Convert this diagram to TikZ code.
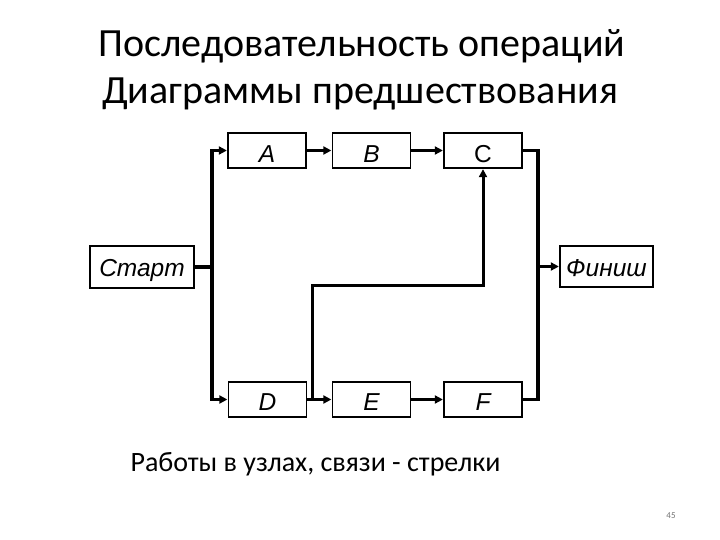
\documentclass[tikz,border=0pt]{standalone}
\usepackage{fontspec}
\setmainfont{Carlito}
\newfontfamily\arialfont{Liberation Sans}
\usetikzlibrary{arrows.meta}
\begin{document}
\begin{tikzpicture}[x=1pt,y=-1pt,
  box/.style={draw=black, line width=1.1pt, fill=white, inner sep=0pt,
    text height=21pt, text depth=0pt,
    font=\arialfont\itshape\fontsize{24.5}{24.5}\selectfont},
  actbox/.style={box, minimum width=78pt, minimum height=35pt},
  conn/.style={line width=3.6pt, line join=miter},
  arr/.style={conn, -{Triangle[length=8pt,width=8pt]}, shorten >=0.6pt},
  thinarr/.style={line width=3pt, -{Triangle[length=8pt,width=8pt]}, shorten >=0.6pt},
  title/.style={font=\fontsize{40}{40}\selectfont, anchor=base},
  note/.style={font=\fontsize{28}{28}\selectfont, anchor=base west}]
\useasboundingbox (0,0) rectangle (720,540);
\fill[white] (0,0) rectangle (720,540);
% titles
\node[title] (t1) at (362,57) {Последовательность операций};
\node[title] (t2) at (360,104) {Диаграммы предшествования};
% boxes
\node[box, minimum width=104pt, minimum height=42pt, text height=19.5pt] (start) at (142,267) {Старт};
\node[box, minimum width=93pt, minimum height=41pt, text height=19pt] (fin) at (606.5,266.5) {Финиш};
\node[actbox, text height=24pt] (A) at (267,150.5) {A};
\node[actbox, text height=24pt] (B) at (371.5,150.5) {B};
\node[actbox, text height=24pt, font=\arialfont\fontsize{24.5}{24.5}\selectfont] (C) at (483,150.5) {C};
\node[actbox] (D) at (267.5,399.5) {D};
\node[actbox] (E) at (371.5,399.5) {E};
\node[actbox] (F) at (483,399.5) {F};
% junction coordinates
\coordinate (lt) at (212,150.5);
\coordinate (lb) at (212,399.5);
\coordinate (rj) at (538,266.5);
\coordinate (dj) at (312,399.5);
% left trunk
\draw[conn] (start.east) -- (start.east -| lt);
\draw[arr] (lb) |- (A.west);
\draw[arr] (lt) |- (D.west);
% top chain
\draw[arr] (A.east) -- (B.west);
\draw[arr] (B.east) -- (C.west);
% bottom chain
\draw[arr] (D.east) -- (E.west);
\draw[arr] (E.east) -- (F.west);
% right trunk
\draw[conn] (C.east) -| (rj) |- (F.east);
\draw[arr] (rj) -- (fin.west);
% D -> C
\draw[thinarr] (dj) -- ++(0,-114) -| (C.south);
% notes
\node[note] (n1) at (127,471) {Работы в узлах, связи - стрелки};
\node[font=\fontsize{9}{9}\selectfont, text=black!55, anchor=base] (pg) at (671,518) {45};
\end{tikzpicture}
\end{document}
